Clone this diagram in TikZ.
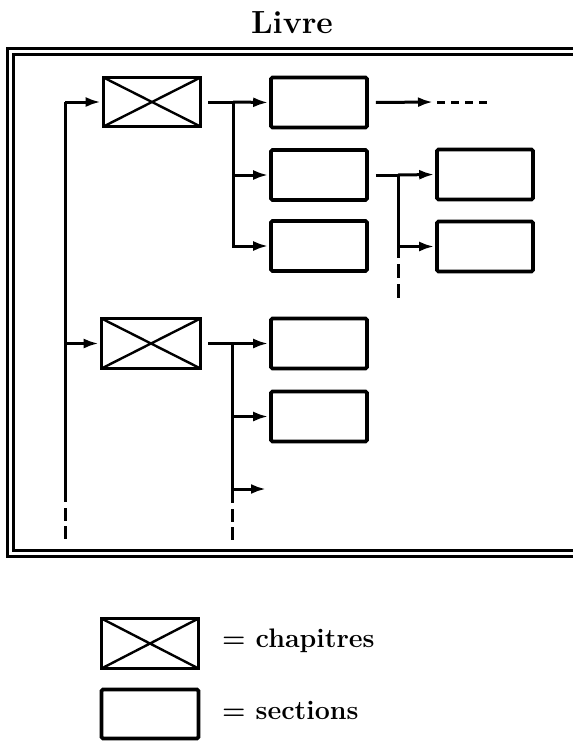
\documentclass[tikz,border=0pt]{standalone}
\usetikzlibrary{arrows.meta}
\begin{document}
\begin{tikzpicture}[x=1pt,y=-1pt,
  sec/.style={draw, line width=3.6pt, rounded corners=1.5pt, minimum width=96pt, minimum height=50pt, inner sep=0pt},
  chap/.style={sec, rounded corners=0pt, path picture={
      \draw[line width=2.4pt] (path picture bounding box.north west) -- (path picture bounding box.south east)
                               (path picture bounding box.south west) -- (path picture bounding box.north east);}},
  ln/.style={line width=3pt},
  arr/.style={line width=3pt, -{Latex[length=15pt,width=10pt]}, shorten >=1pt},
  dsh/.style={line width=3pt, dash pattern=on 8pt off 6pt},
  vdsh/.style={line width=3pt, dash pattern=on 13pt off 5pt},
  frm/.style={line width=3pt},
  lbl/.style={font=\bfseries\fontsize{26.8}{32}\selectfont, anchor=base west, inner sep=0pt}
]
\useasboundingbox (0,0) rectangle (573,742);
\clip (0,0) rectangle (573,742);

% title
\node[font=\bfseries\fontsize{32}{38}\selectfont, anchor=base, inner sep=0pt] (title) at (292,33) {Livre};

% frame (double line, right side off the page)
\draw[frm] (620,48) -- (7,48) -- (7,556) -- (620,556);
\draw[frm] (620,54) -- (13,54) -- (13,550) -- (620,550);

% chapters
\node[chap, minimum width=97pt, minimum height=49pt] (ch1) at (152,102) {};
\node[chap, minimum width=99pt, minimum height=50pt] (ch2) at (151,343.5) {};

% sections
\node[sec] (sA) at (319,102.5) {};
\node[sec] (sB) at (319,175) {};
\node[sec] (sC) at (319,246) {};
\node[sec] (sD) at (485,174.5) {};
\node[sec] (sE) at (485,246.5) {};
\node[sec] (sF) at (319,343.5) {};
\node[sec] (sG) at (319,416.5) {};

% left bus
\coordinate (j0) at (65,102);
\coordinate (j0e) at (65,502);
\coordinate (j0d) at (65,508);
\coordinate (j0f) at (65,542);
\draw[ln] (j0) -- (j0e);
\draw[vdsh] (j0d) -- (j0f);
\draw[arr] (j0) -- (ch1.west);
\draw[arr] (j0 |- ch2.west) -- (ch2.west);

% chapter 1 bus
\coordinate (j1) at (233,102);
\draw[ln] ([xshift=6pt]ch1.east) -- (j1);
\draw[arr] (j1) -- (sA.west);
\draw[arr] (j1) |- (sC.west);
\draw[arr] (j1 |- sB.west) -- (sB.west);

% continuation after section A
\coordinate (a1) at (433,102);
\coordinate (a2) at (437,102);
\coordinate (a3) at (490,102);
\draw[arr, shorten >=0pt] ([xshift=7pt]sA.east) -- (a1);
\draw[dsh] (a2) -- (a3);

% section B bus
\coordinate (j2) at (398,175);
\coordinate (j2e) at (398,258);
\coordinate (j2d) at (398,264);
\coordinate (j2f) at (398,300);
\draw[ln] ([xshift=7pt]sB.east) -- (j2);
\draw[arr] (j2) -- (sD.west);
\draw[ln] (j2) -- (j2e);
\draw[ln, dash pattern=on 14pt off 6pt] (j2d) -- (j2f);
\draw[arr] (j2 |- sE.west) -- (sE.west);

% chapter 2 bus
\coordinate (j3) at (232,343.5);
\coordinate (j3e) at (232,503);
\coordinate (j3d) at (232,509);
\coordinate (j3f) at (232,542);
\coordinate (t3) at (266,489);
\draw[ln] ([xshift=6pt]ch2.east) -- (j3);
\draw[arr] (j3) -- (sF.west);
\draw[arr] (j3 |- sG.west) -- (sG.west);
\draw[arr, shorten >=0pt] (j3 |- t3) -- (t3);
\draw[ln] (j3) -- (j3e);
\draw[vdsh] (j3d) -- (j3f);

% legend
\node[chap, minimum width=97pt, minimum height=50pt] (lc) at (150,643.5) {};
\node[sec, minimum width=97pt, minimum height=49pt] (ls) at (150,714) {};
\node[lbl] (tc) at (222,647) {= chapitres};
\node[lbl] (ts) at (222,719) {= sections};
\end{tikzpicture}
\end{document}
